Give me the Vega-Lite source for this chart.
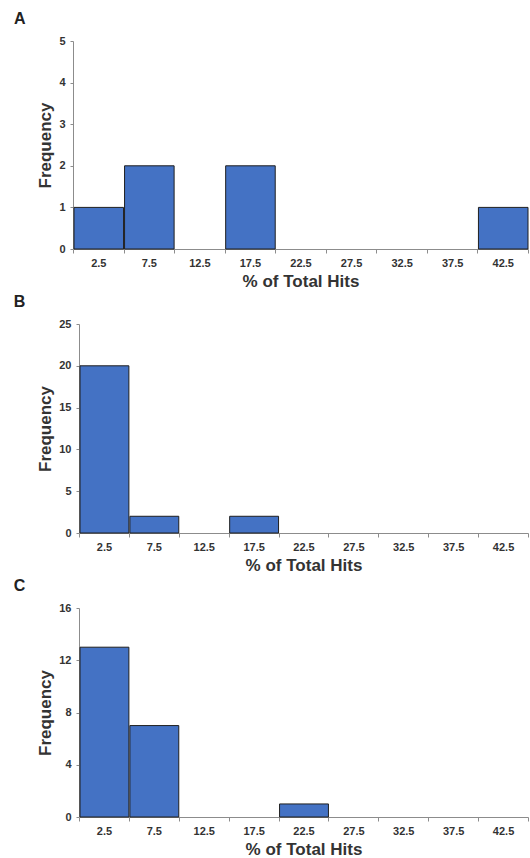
{
  "$schema": "https://vega.github.io/schema/vega-lite/v6.json",
  "padding": {"left": 13, "top": 11, "right": 2, "bottom": 0},
  "background": "white",
  "config": {
    "font": "Liberation Sans",
    "view": {"stroke": null},
    "axis": {
      "grid": false,
      "domainColor": "#8c8c8c",
      "tickColor": "#8c8c8c",
      "labelFont": "Liberation Sans",
      "labelFontWeight": "bold",
      "labelFontSize": 11,
      "labelColor": "#333333",
      "titleFont": "Liberation Sans",
      "titleFontWeight": "bold",
      "titleColor": "#333333"
    },
    "concat": {"spacing": 5}
  },
  "datasets": {
    "hits": [
      {"panel": "A", "bin_start": 0, "bin_end": 5, "frequency": 1},
      {"panel": "A", "bin_start": 5, "bin_end": 10, "frequency": 2},
      {"panel": "A", "bin_start": 15, "bin_end": 20, "frequency": 2},
      {"panel": "A", "bin_start": 40, "bin_end": 45, "frequency": 1},
      {"panel": "B", "bin_start": 0, "bin_end": 5, "frequency": 20},
      {"panel": "B", "bin_start": 5, "bin_end": 10, "frequency": 2},
      {"panel": "B", "bin_start": 15, "bin_end": 20, "frequency": 2},
      {"panel": "C", "bin_start": 0, "bin_end": 5, "frequency": 13},
      {"panel": "C", "bin_start": 5, "bin_end": 10, "frequency": 7},
      {"panel": "C", "bin_start": 20, "bin_end": 25, "frequency": 1}
    ]
  },
  "vconcat": [
    {
      "width": 455,
      "height": 208,
      "title": {"text": "A", "anchor": "start", "frame": "bounds", "fontSize": 16, "fontWeight": "bold", "color": "#222222", "dx": -23, "offset": 8},
      "data": {"name": "hits"},
      "transform": [{"filter": "datum.panel === 'A'"}],
      "mark": {"type": "bar", "fill": "#4472C4", "stroke": "#1f1f1f", "strokeWidth": 1},
      "encoding": {
        "x": {"field": "bin_start", "type": "quantitative", "bin": "binned",
          "scale": {"domain": [0, 45], "nice": false, "zero": false},
          "axis": {"title": "% of Total Hits", "titleFontSize": 17, "titlePadding": 5,
            "values": [0, 2.5, 5, 7.5, 10, 12.5, 15, 17.5, 20, 22.5, 25, 27.5, 30, 32.5, 35, 37.5, 40, 42.5, 45],
            "labelExpr": "datum.value % 5 === 0 ? '' : format(datum.value, '.1f')",
            "tickOpacity": {"condition": {"test": "datum.value % 5 === 0", "value": 1}, "value": 0},
            "tickSize": 4, "labelPadding": 4, "labelFlush": false}},
        "x2": {"field": "bin_end"},
        "y": {"field": "frequency", "type": "quantitative",
          "scale": {"domain": [0, 5], "nice": false},
          "axis": {"title": "Frequency", "titleFontSize": 17, "titlePadding": 4, "values": [0, 1, 2, 3, 4, 5], "tickSize": 3, "labelPadding": 5}}
      }
    },
    {
      "width": 455,
      "height": 209,
      "title": {"text": "B", "anchor": "start", "frame": "bounds", "fontSize": 16, "fontWeight": "bold", "color": "#222222", "dx": -23, "offset": 8},
      "data": {"name": "hits"},
      "transform": [{"filter": "datum.panel === 'B'"}],
      "mark": {"type": "bar", "fill": "#4472C4", "stroke": "#1f1f1f", "strokeWidth": 1},
      "encoding": {
        "x": {"field": "bin_start", "type": "quantitative", "bin": "binned",
          "scale": {"domain": [0, 45], "nice": false, "zero": false, "range": [6, 455]},
          "axis": {"title": "% of Total Hits", "titleFontSize": 17, "titlePadding": 5,
            "values": [0, 2.5, 5, 7.5, 10, 12.5, 15, 17.5, 20, 22.5, 25, 27.5, 30, 32.5, 35, 37.5, 40, 42.5, 45],
            "labelExpr": "datum.value % 5 === 0 ? '' : format(datum.value, '.1f')",
            "tickOpacity": {"condition": {"test": "datum.value % 5 === 0", "value": 1}, "value": 0},
            "tickSize": 4, "labelPadding": 4, "labelFlush": false}},
        "x2": {"field": "bin_end"},
        "y": {"field": "frequency", "type": "quantitative",
          "scale": {"domain": [0, 25], "nice": false},
          "axis": {"title": "Frequency", "titleFontSize": 17, "titlePadding": 4, "offset": -6, "values": [0, 5, 10, 15, 20, 25], "tickSize": 3, "labelPadding": 5}}
      }
    },
    {
      "width": 455,
      "height": 209,
      "title": {"text": "C", "anchor": "start", "frame": "bounds", "fontSize": 16, "fontWeight": "bold", "color": "#222222", "dx": -23, "offset": 8},
      "data": {"name": "hits"},
      "transform": [{"filter": "datum.panel === 'C'"}],
      "mark": {"type": "bar", "fill": "#4472C4", "stroke": "#1f1f1f", "strokeWidth": 1},
      "encoding": {
        "x": {"field": "bin_start", "type": "quantitative", "bin": "binned",
          "scale": {"domain": [0, 45], "nice": false, "zero": false, "range": [6, 455]},
          "axis": {"title": "% of Total Hits", "titleFontSize": 17, "titlePadding": 5,
            "values": [0, 2.5, 5, 7.5, 10, 12.5, 15, 17.5, 20, 22.5, 25, 27.5, 30, 32.5, 35, 37.5, 40, 42.5, 45],
            "labelExpr": "datum.value % 5 === 0 ? '' : format(datum.value, '.1f')",
            "tickOpacity": {"condition": {"test": "datum.value % 5 === 0", "value": 1}, "value": 0},
            "tickSize": 4, "labelPadding": 4, "labelFlush": false}},
        "x2": {"field": "bin_end"},
        "y": {"field": "frequency", "type": "quantitative",
          "scale": {"domain": [0, 16], "nice": false},
          "axis": {"title": "Frequency", "titleFontSize": 17, "titlePadding": 4, "offset": -6, "values": [0, 4, 8, 12, 16], "tickSize": 3, "labelPadding": 5}}
      }
    }
  ]
}
